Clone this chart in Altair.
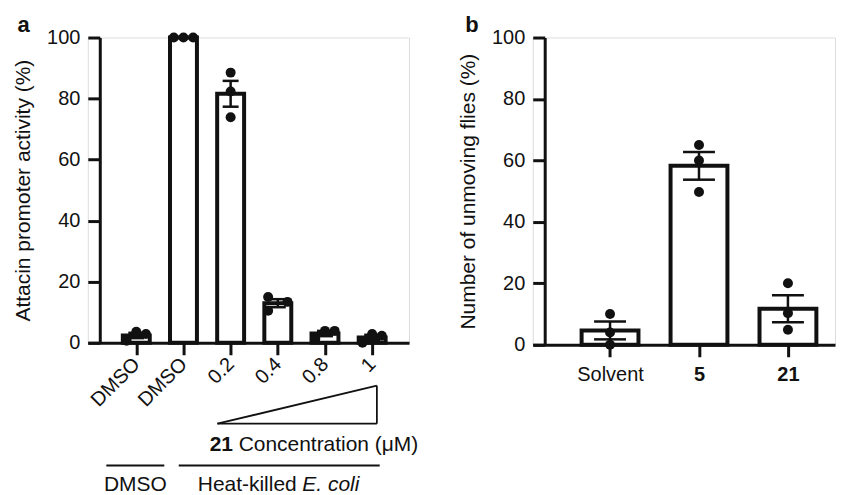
import altair as alt
import pandas as pd

FONT = "Liberation Sans"
INK = "#111111"

# ---------------- Panel a data ----------------
a_labels = ["DMSO", "DMSO", "0.2", "0.4", "0.8", "1"]
a_rep1 = [0.7, 100, 88.5, 15.0, 1.3, 0.0]
a_rep2 = [3.6, 100, 82.3, 10.5, 3.9, 2.9]
a_rep3 = [2.9, 100, 73.9, 13.4, 3.9, 2.3]
a_side1 = [-1, -1, 0, -1, -1, -1]
a_side2 = [0, 0, 0, -1, 0, 0]
a_side3 = [1, 1, 0, 1, 1, 1]

# ---------------- Panel b data ----------------
b_labels = ["Solvent", "5", "21"]
b_rep1 = [10.0, 65.0, 20.0]
b_rep2 = [4.0, 60.0, 10.3]
b_rep3 = [0.0, 49.7, 4.9]

rows_a = []
for i in range(len(a_labels)):
    for v, s in ((a_rep1[i], a_side1[i]), (a_rep2[i], a_side2[i]), (a_rep3[i], a_side3[i])):
        rows_a.append({"i": i, "v": v, "s": s})
df_a = pd.DataFrame(rows_a)

rows_b = []
for i in range(len(b_labels)):
    for v in (b_rep1[i], b_rep2[i], b_rep3[i]):
        rows_b.append({"i": i, "v": v, "s": 0})
df_b = pd.DataFrame(rows_b)

one = pd.DataFrame({"k": [0]})


def label_expr(labels):
    return "[" + ",".join("'" + l + "'" for l in labels) + "][datum.value]"


def y_axis(title):
    return alt.Axis(values=[0, 20, 40, 60, 80, 100], title=title, titleFontSize=21,
                    titleFontWeight="normal", titlePadding=13, titleColor=INK,
                    labelFontSize=20, labelPadding=8, labelColor=INK, tickSize=12,
                    tickWidth=3, tickColor=INK, domainWidth=3, domainColor=INK,
                    offset=-12, grid=False, titleFont=FONT, labelFont=FONT)


def panel(df, xdom, ytitle, xaxis, bar_w, cap_w, jit):
    xs = alt.Scale(domain=xdom, nice=False, zero=False)
    ys = alt.Scale(domain=[0, 100], nice=False)
    ya = y_axis(ytitle)
    base = alt.Chart(df)
    agg = base.transform_aggregate(
        m="mean(v)", se="stderr(v)", groupby=["i"]
    ).transform_calculate(lo="datum.m - datum.se", hi="datum.m + datum.se")
    bars = agg.mark_bar(size=bar_w, fill="white", stroke=INK, strokeWidth=4).encode(
        x=alt.X("i:Q", scale=xs, axis=xaxis),
        y=alt.Y("m:Q", scale=ys, axis=ya),
    )
    err = agg.mark_rule(color=INK, strokeWidth=2.5).encode(
        x=alt.X("i:Q", scale=xs, axis=xaxis),
        y=alt.Y("lo:Q", scale=ys, axis=ya),
        y2="hi:Q",
    )
    cap_hi = agg.mark_tick(orient="horizontal", size=cap_w, thickness=2.5, color=INK, opacity=1).encode(
        x=alt.X("i:Q", scale=xs, axis=xaxis),
        y=alt.Y("hi:Q", scale=ys, axis=ya),
    )
    cap_lo = agg.mark_tick(orient="horizontal", size=cap_w, thickness=2.5, color=INK, opacity=1).encode(
        x=alt.X("i:Q", scale=xs, axis=xaxis),
        y=alt.Y("lo:Q", scale=ys, axis=ya),
    )
    pts = base.transform_calculate(xp=f"datum.i + datum.s * {jit}").mark_circle(
        size=100, color=INK, opacity=1
    ).encode(
        x=alt.X("xp:Q", scale=xs, axis=xaxis),
        y=alt.Y("v:Q", scale=ys, axis=ya),
    )
    return [bars, err, cap_hi, cap_lo, pts], xs, ys


def seg(xs, ys, x1, y1, x2, y2, w):
    return alt.Chart(one).mark_rule(color=INK, strokeWidth=w, clip=False).encode(
        x=alt.XDatum(x1, scale=xs), y=alt.YDatum(y1, scale=ys),
        x2=alt.X2Datum(x2), y2=alt.Y2Datum(y2))


def txt(xs, ys, s, x, y, align, weight="normal", style="normal", size=21):
    return alt.Chart(one).mark_text(text=s, align=align, baseline="alphabetic", fontSize=size,
                                    font=FONT, fontWeight=weight, fontStyle=style, color=INK,
                                    clip=False).encode(
        x=alt.XDatum(x, scale=xs), y=alt.YDatum(y, scale=ys))


# ---------------- Panel a ----------------
xaxis_a = alt.Axis(values=list(range(len(a_labels))), labelExpr=label_expr(a_labels), title=None,
                   labelAngle=-45, labelAlign="right", labelBaseline="middle", labelFontSize=20,
                   labelPadding=6, labelColor=INK, labelFont=FONT, labelOverlap=False,
                   labelBound=False, tickSize=12, tickWidth=3,
                   tickColor=INK, domainWidth=3, domainColor=INK, grid=False)
layers_a, xs_a, ys_a = panel(df_a, [-0.922, 5.676],
                             "Attacin promoter activity (%)", xaxis_a, 27, 16, 0.205)

annot_a = [
    txt(xs_a, ys_a, "a", -2.52, 101.65, "left", weight="bold", size=22),
    seg(xs_a, ys_a, 1.72, -26.5, 5.10, -14.05, 1.8),
    seg(xs_a, ys_a, 5.10, -14.05, 5.10, -26.5, 1.8),
    seg(xs_a, ys_a, 1.72, -26.5, 5.10, -26.5, 1.8),
    txt(xs_a, ys_a, "21", 2.05, -35.3, "right", weight="bold"),
    txt(xs_a, ys_a, "Concentration (\u03bcM)", 2.17, -35.3, "left"),
    seg(xs_a, ys_a, -0.635, -40.2, 0.594, -40.2, 2),
    seg(xs_a, ys_a, 0.90, -40.2, 5.16, -40.2, 2),
    txt(xs_a, ys_a, "DMSO", -0.02, -48.4, "center"),
    txt(xs_a, ys_a, "Heat-killed", 3.40, -48.4, "right"),
    txt(xs_a, ys_a, "E. coli", 3.52, -48.4, "left", style="italic"),
]

chart_a = alt.layer(*layers_a, *annot_a).properties(width=322, height=306)

# ---------------- Panel b ----------------
xaxis_b = alt.Axis(values=list(range(len(b_labels))), labelExpr=label_expr(b_labels), title=None,
                   labelAngle=0, labelFontSize=20, labelPadding=8, labelColor=INK, labelFont=FONT,
                   labelFontWeight={"condition": {"test": "datum.value == 0", "value": "normal"},
                                    "value": "bold"},
                   tickSize=12, tickWidth=3, tickColor=INK, domainWidth=3, domainColor=INK,
                   grid=False)
layers_b, xs_b, ys_b = panel(df_b, [-0.813, 2.473],
                             "Number of unmoving flies (%)", xaxis_b, 57, 32, 0.0)
annot_b = [txt(xs_b, ys_b, "b", -1.627, 101.65, "left", weight="bold", size=22)]
chart_b = alt.layer(*layers_b, *annot_b).properties(width=303, height=308)

chart = alt.hconcat(chart_a, chart_b, spacing=38).properties(
    padding={"left": 4, "top": 5, "right": 0, "bottom": 0}
).configure_view(stroke=None).configure(font=FONT)

chart.save("out.html", embed_options={"renderer": "svg", "actions": False})
